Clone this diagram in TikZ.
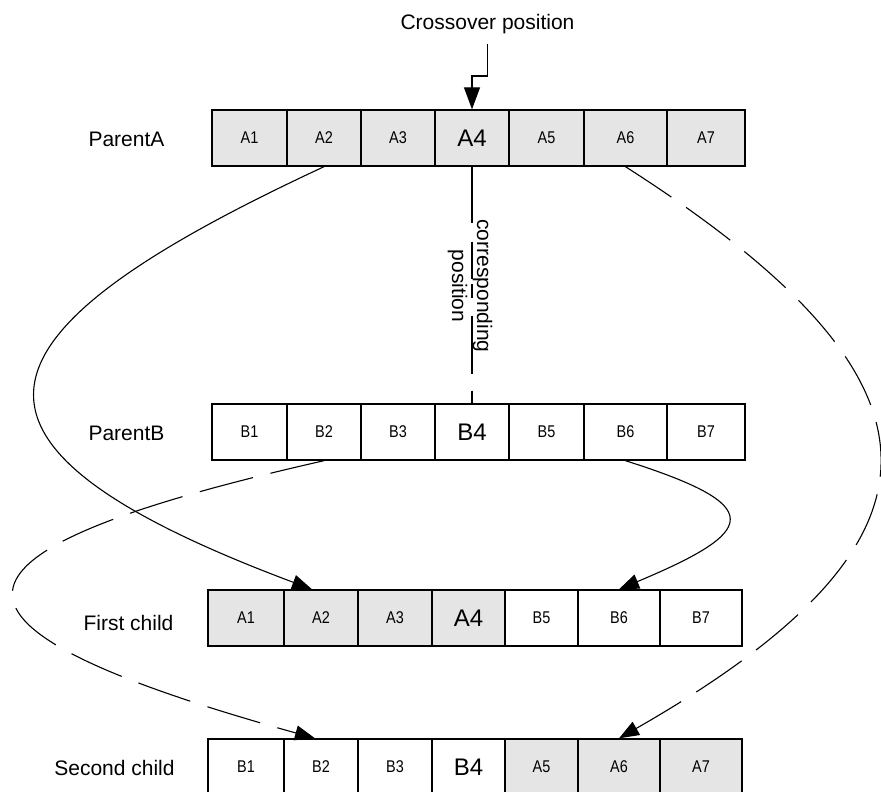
\documentclass[tikz,border=0pt]{standalone}
\usepackage{fontspec}
\setmainfont{Liberation Sans}
\newfontfamily\cellfont[FakeStretch=0.85]{Liberation Sans}
\usetikzlibrary{arrows.meta}
\definecolor{genegray}{gray}{0.9}
\tikzset{
  cell/.style={draw=black, line width=1.4pt, minimum height=56pt, inner sep=0pt,
    font=\cellfont\fontsize{17}{20}\selectfont},
  geneA/.style={cell, fill=genegray},
  geneB/.style={cell, fill=white},
  bigcell/.style={font=\fontsize{24}{28}\selectfont},
  rowlabel/.style={font=\fontsize{21}{25}\selectfont, inner sep=0pt},
  link/.style={line width=1.1pt, -{Triangle[length=20pt,width=15pt]}},
  dashedlink/.style={link, dash pattern=on 55pt off 18pt},
}
% one gene cell: name, left x, right x, centre y, style, text
\newcommand\genecell[6]{%
  \node[#5, minimum width={#3-#2}] (#1) at ({(#2+#3)/2},#4) {#6};}

\begin{document}
\begin{tikzpicture}[x=1pt, y=-1pt]
\useasboundingbox (0,0) rectangle (881,792);

% row labels
\node[rowlabel] (lpa) at (126.5,139) {ParentA};
\node[rowlabel] (lpb) at (126.5,433) {ParentB};
\node[rowlabel] (lfc) at (128.5,623) {First child};
\node[rowlabel] (lsc) at (114.5,768) {Second child};

% parent A
\genecell{pa1}{212}{287}{138}{geneA}{A1}
\genecell{pa2}{287}{361}{138}{geneA}{A2}
\genecell{pa3}{361}{435}{138}{geneA}{A3}
\genecell{pa4}{435}{509}{138}{geneA,bigcell}{A4}
\genecell{pa5}{509}{584}{138}{geneA}{A5}
\genecell{pa6}{584}{667}{138}{geneA}{A6}
\genecell{pa7}{667}{745}{138}{geneA}{A7}

% parent B
\genecell{pb1}{212}{287}{432}{geneB}{B1}
\genecell{pb2}{287}{361}{432}{geneB}{B2}
\genecell{pb3}{361}{435}{432}{geneB}{B3}
\genecell{pb4}{435}{509}{432}{geneB,bigcell}{B4}
\genecell{pb5}{509}{584}{432}{geneB}{B5}
\genecell{pb6}{584}{667}{432}{geneB}{B6}
\genecell{pb7}{667}{745}{432}{geneB}{B7}

% first child
\genecell{fc1}{208}{284}{618}{geneA}{A1}
\genecell{fc2}{284}{358}{618}{geneA}{A2}
\genecell{fc3}{358}{432}{618}{geneA}{A3}
\genecell{fc4}{432}{505}{618}{geneA,bigcell}{A4}
\genecell{fc5}{505}{578}{618}{geneB}{B5}
\genecell{fc6}{578}{660}{618}{geneB}{B6}
\genecell{fc7}{660}{742}{618}{geneB}{B7}

% second child
\genecell{sc1}{208}{284}{767}{geneB}{B1}
\genecell{sc2}{284}{358}{767}{geneB}{B2}
\genecell{sc3}{358}{432}{767}{geneB}{B3}
\genecell{sc4}{432}{505}{767}{geneB,bigcell}{B4}
\genecell{sc5}{505}{578}{767}{geneA}{A5}
\genecell{sc6}{578}{660}{767}{geneA}{A6}
\genecell{sc7}{660}{742}{767}{geneA}{A7}

% crossover marker
\node[rowlabel] (cross) at (487.5,24) {Crossover position};
\coordinate (bend) at (487.5,76);
\draw[line width=1.3pt, -{Triangle[length=22pt,width=16pt]}]
  ([yshift=-10pt]cross.south) -- (bend) -| (pa4.north);

% corresponding position
\draw[line width=1.1pt,
  dash pattern=on 56pt off 19pt on 37pt off 5pt on 14pt off 18pt on 58pt off 17pt on 40pt]
  (pa4.south) -- (pb4.north);
\node[rowlabel, rotate=-90, align=center] (corr) at (470,286) {corresponding\\position};

% inherited segments
\draw[link] (pa2.south) .. controls (-36,334) and (-78.6,443) .. ([xshift=-9pt]fc2.north);
\draw[dashedlink] (pb2.south) .. controls (-85.5,553.4) and (-88,626) .. ([xshift=-6pt]sc2.north);
\draw[link] (pb6.south) .. controls (768.5,506) and (758,531) .. (fc6.north);
\draw[dashedlink] (pa6.south) .. controls (962,382) and (967,539) .. (sc6.north);
\end{tikzpicture}
\end{document}
